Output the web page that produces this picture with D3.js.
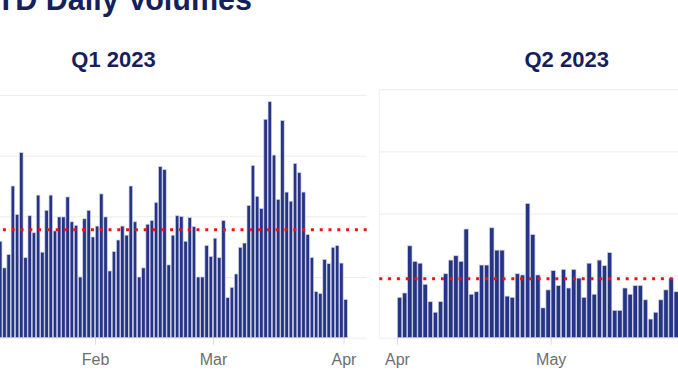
<!DOCTYPE html>
<html>
<head>
<meta charset="utf-8">
<script src="https://cdn.jsdelivr.net/npm/d3@7/dist/d3.min.js"></script>
<style>
  body { margin: 0; background: #fff; }
  text { font-family: "Liberation Sans", Arial, Helvetica, sans-serif; }
</style>
</head>
<body>
<div id="div_chart"></div>
<script>
var width_chart = 678;
var height_chart = 381;

var title_text = "YTD Daily Volumes";
var panel_titles = ["Q1 2023", "Q2 2023"];

// daily volumes (days before Jan 9 are outside the view)
var q1_first_day = "2023-01-09";
var q1_values = [
  159, 115, 137, 250, 203, 305, 132, 201, 173, 235, 141, 210, 235, 176, 199, 199,
  232, 191, 185, 100, 196, 210, 166,
  184, 237, 199, 110, 142, 161, 184, 169, 250, 191, 100, 115, 187, 193, 223, 282,
  277, 120, 169, 201, 200, 159, 198, 183, 100, 100, 152, 134,
  164, 132, 193, 66, 83, 105, 149, 156, 218, 284, 233, 213, 360, 389, 301, 228,
  358, 240, 225, 287, 272, 240, 170, 132, 76, 73, 129, 122, 149, 152, 123, 63
];
var q1_average = 178;

// Q2 only shows up to late May in the view
var q2_first_day = "2023-04-01";
var q2_values = [
  65, 72, 148, 123, 120, 86, 58, 41, 58, 103, 125, 132, 123, 175, 70, 74,
  117, 117, 177, 141, 141, 67, 65, 103, 101, 216, 166, 101, 48, 77,
  108, 84, 110, 80, 110, 96, 65, 120, 70, 125, 116, 137, 44, 44, 80, 70,
  84, 84, 61, 30, 41, 61, 77, 96, 74
];
var q2_average = 95;

var y_ticks = [0, 100, 200, 300, 400];
var q1_month_ticks = ["2023-02-01", "2023-03-01", "2023-04-01"];
var q2_month_ticks = ["2023-04-01", "2023-05-01"];

var navy = "#263487";
var title_color = "#161e5c";
var parseDay = d3.timeParse("%Y-%m-%d");

var svg = d3.select("#div_chart").append("svg")
    .attr("width", width_chart)
    .attr("height", height_chart);

svg.append("text")
    .attr("x", 252)
    .attr("y", 10)
    .attr("text-anchor", "end")
    .attr("font-size", "30.5px")
    .attr("font-weight", "bold")
    .attr("fill", title_color)
    .text(title_text);

function dayList(first, n) {
    var start = parseDay(first);
    return d3.timeDay.range(start, d3.timeDay.offset(start, n));
}

function drawPanel(p) {
    var g = svg.append("g");
    var dates = dayList(p.first_day, p.values.length);

    var x = d3.scaleTime()
        .domain([parseDay(p.ref_days[0]), parseDay(p.ref_days[1])])
        .range(p.ref_px);
    var y = d3.scaleLinear().domain([0, 400]).range([p.bottom, p.top]);

    // horizontal grid
    g.append("g")
        .attr("transform", "translate(" + p.left + ",0)")
        .call(d3.axisLeft(y).tickValues(y_ticks).tickSize(-(p.right - p.left)).tickFormat(""))
        .call(function (a) {
            a.select(".domain").remove();
            a.selectAll("line").attr("stroke", "#ececec").attr("stroke-width", 1);
        });

    if (p.left_border) {
        g.append("line")
            .attr("x1", p.left).attr("x2", p.left)
            .attr("y1", p.top).attr("y2", p.bottom)
            .attr("stroke", "#efefef");
    }

    // month axis
    g.append("g")
        .attr("transform", "translate(0," + p.bottom + ")")
        .call(d3.axisBottom(x)
            .tickValues(p.month_ticks.map(parseDay))
            .tickFormat(d3.timeFormat("%b"))
            .tickSizeInner(7)
            .tickSizeOuter(0)
            .tickPadding(8.5))
        .call(function (a) {
            a.select(".domain").remove();
            a.selectAll("line").attr("stroke", "#dcdcdc");
            a.selectAll("text")
                .attr("fill", "#6e6e6e")
                .style("font-size", "16px")
                .style("font-family", "'Liberation Sans', Arial, sans-serif");
        });

    g.selectAll(".bar")
        .data(p.values)
        .enter().append("rect")
        .attr("class", "bar")
        .attr("x", function (d, i) { return x(dates[i]) + 0.35; })
        .attr("width", function (d, i) {
            return x(d3.timeDay.offset(dates[i], 1)) - x(dates[i]) - 0.7;
        })
        .attr("y", function (d) { return y(d); })
        .attr("height", function (d) { return y(0) - y(d); })
        .attr("fill", navy)
        .attr("stroke", "#cfd2de")
        .attr("stroke-width", 0.7);

    // average line, drawn from the panel edge where the dots start
    g.append("line")
        .attr("x1", p.dot_from).attr("x2", p.dot_to)
        .attr("y1", y(p.average)).attr("y2", y(p.average))
        .attr("stroke", "#e8160f")
        .attr("stroke-width", 3)
        .attr("stroke-dasharray", "3,5.8");

    svg.append("text")
        .attr("x", p.title_x)
        .attr("y", 66.5)
        .attr("text-anchor", "middle")
        .attr("font-size", "22px")
        .attr("font-weight", "bold")
        .attr("fill", title_color)
        .text(p.title);
}

drawPanel({
    title: panel_titles[0], title_x: 113.5,
    first_day: q1_first_day, values: q1_values, average: q1_average,
    month_ticks: q1_month_ticks,
    ref_days: ["2023-02-01", "2023-04-01"], ref_px: [95, 343.5],
    left: -150, right: 366.7, top: 95, bottom: 337.7,
    dot_from: 366.7, dot_to: -150, left_border: false
});

drawPanel({
    title: panel_titles[1], title_x: 566.7,
    first_day: q2_first_day, values: q2_values, average: q2_average,
    month_ticks: q2_month_ticks,
    ref_days: ["2023-04-01", "2023-05-01"], ref_px: [397, 550.7],
    left: 379.3, right: 760, top: 89.3, bottom: 337.7,
    dot_from: 379.3, dot_to: 760, left_border: true
});
</script>
</body>
</html>
